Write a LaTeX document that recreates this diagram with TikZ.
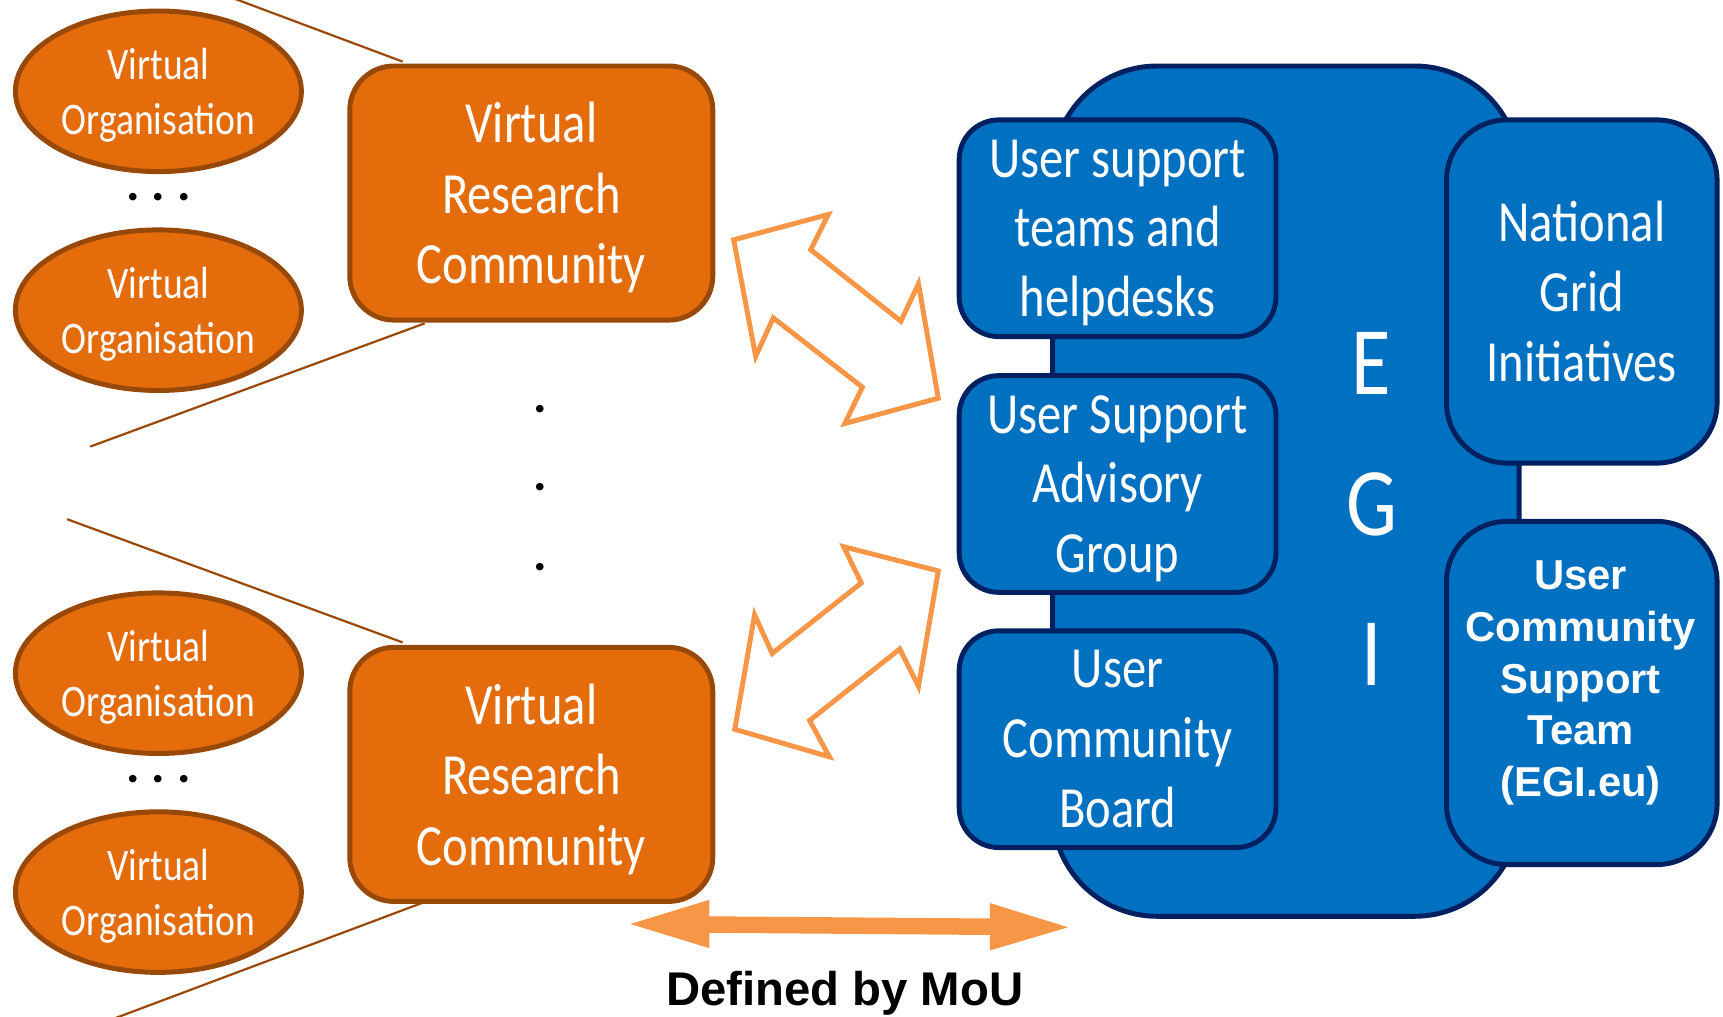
\documentclass[tikz,border=0pt]{standalone}
\usepackage{fontspec}
\setmainfont{Carlito}[FakeStretch=0.833]
\newfontfamily\calplain{Carlito}
\newfontfamily\arialfont{Liberation Sans}
\usetikzlibrary{shapes.geometric}
\newcommand{\nodepth}[1]{\raisebox{0pt}[\height][0pt]{#1}}
\definecolor{vofill}{HTML}{E46C0A}
\definecolor{vodraw}{HTML}{984807}
\definecolor{egifill}{HTML}{0070C0}
\definecolor{egidraw}{HTML}{002060}
\definecolor{arrorange}{HTML}{F79646}
\begin{document}
\begin{tikzpicture}[x=1pt,y=-1pt,
  vo/.style={ellipse, draw=vodraw, fill=vofill, line width=4.5pt, minimum width=260pt, minimum height=146pt, inner sep=0pt, text=white, align=center, font=\fontsize{41}{50}\selectfont},
  vrc/.style={rectangle, rounded corners=40pt, draw=vodraw, fill=vofill, line width=4.5pt, minimum width=330pt, minimum height=231pt, inner sep=0pt, text=white, align=center, font=\fontsize{53}{64}\selectfont},
  egibox/.style={rectangle, rounded corners=36pt, draw=egidraw, fill=egifill, line width=4.5pt, minimum width=288pt, minimum height=197pt, inner sep=0pt, text=white, align=center, font=\fontsize{53}{63.5}\selectfont},
  egiside/.style={rectangle, rounded corners=55pt, draw=egidraw, fill=egifill, line width=4.5pt, minimum width=246pt, minimum height=312pt, inner sep=0pt, text=white, align=center, font=\fontsize{53}{63.5}\selectfont},
  egibig/.style={rectangle, rounded corners=95pt, draw=egidraw, fill=egifill, line width=4.5pt, minimum width=424pt, minimum height=773pt, inner sep=0pt},
  egiletter/.style={text=white, inner sep=0pt, font=\fontsize{88}{100}\selectfont},
  brownline/.style={draw=vodraw, line width=2pt},
  outarrow/.style={draw=arrorange, fill=white, line width=4.5pt, line join=miter},
  dotnode/.style={inner sep=0pt, font=\calplain\bfseries\fontsize{46}{50}\selectfont, text=black},
]
\useasboundingbox (0,0) rectangle (1566.4,924.5);

% brown lines (behind the boxes)
\coordinate (l1) at (211,-2);
\coordinate (l2) at (82,406);
\coordinate (l3) at (61,472);
\coordinate (l4) at (101,927);
\coordinate (r1a) at (366,56);
\coordinate (r1b) at (386,294);
\coordinate (r2a) at (366,584);
\coordinate (r2b) at (386,820);
\draw[brownline] (l1) -- (r1a);
\draw[brownline] (r1b) -- (l2);
\draw[brownline] (l3) -- (r2a);
\draw[brownline] (r2b) -- (l4);

% virtual organisations
\node[vo] (vo1) at (144,83) {Virtual\\\nodepth{Organisation}};
\node[vo] (vo2) at (144,282) {Virtual\\\nodepth{Organisation}};
\node[vo] (vo3) at (144,612) {Virtual\\\nodepth{Organisation}};
\node[vo] (vo4) at (144,811) {Virtual\\\nodepth{Organisation}};
\node[dotnode] (d1) at (144,179) {.\hspace{11pt}.\hspace{11pt}.};
\node[dotnode] (d2) at (144,708) {.\hspace{11pt}.\hspace{11pt}.};

% virtual research communities
\node[vrc] (vrc1) at (483,175.5) {Virtual\\Research\\\nodepth{Community}};
\node[vrc] (vrc2) at (483,704) {Virtual\\Research\\\nodepth{Community}};

% vertical dots
\node[dotnode] (v1) at (491,372) {.};
\node[dotnode] (v2) at (491,443) {.};
\node[dotnode] (v3) at (491,516) {.};

% EGI
\node[egibig] (egi) at (1169,446.5) {};
\node[egibox] (b1) at (1016,207.5) {User support\\teams and\\\nodepth{helpdesks}};
\node[egibox] (b2) at (1016,440) {User Support\\Advisory\\\nodepth{Group}};
\node[egibox] (b3) at (1016,672) {User\\Community\\Board};
\node[egiside] (b4) at (1438,265) {National\\Grid\\Initiatives};
\node[egiside] (b5) at (1438,630) {};
\node[text=white, align=center, inner sep=0pt, font=\arialfont\bfseries\fontsize{38}{47}\selectfont] (b5t) at (1437,621) {User\\Community\\Support\\Team\\(EGI.eu)};
\node[egiletter] (le) at (1247,330) {E};
\node[egiletter] (lg) at (1247,459) {G};
\node[egiletter] (li) at (1247,595) {I};

% outline double arrows
\draw[outarrow] (667,218) -- (753,195) -- (737,227) -- (819,292) -- (835,258) -- (853,362) -- (768,385) -- (784,352) -- (703,289) -- (687,324) -- cycle;
\draw[outarrow] (767,497) -- (853,519) -- (835,624) -- (818,590) -- (736,655) -- (754,688) -- (668,663) -- (686,559) -- (702,594) -- (783,530) -- cycle;

% MoU arrow
\fill[arrorange] (573,840) -- (645,818) -- (645,833) -- (900,835) -- (900,821) -- (971,843) -- (900,864) -- (900,850) -- (645,848) -- (645,862) -- cycle;
\node[inner sep=0pt, font=\arialfont\bfseries\fontsize{43}{50}\selectfont] (mou) at (768,903) {Defined by MoU};
\end{tikzpicture}
\end{document}
